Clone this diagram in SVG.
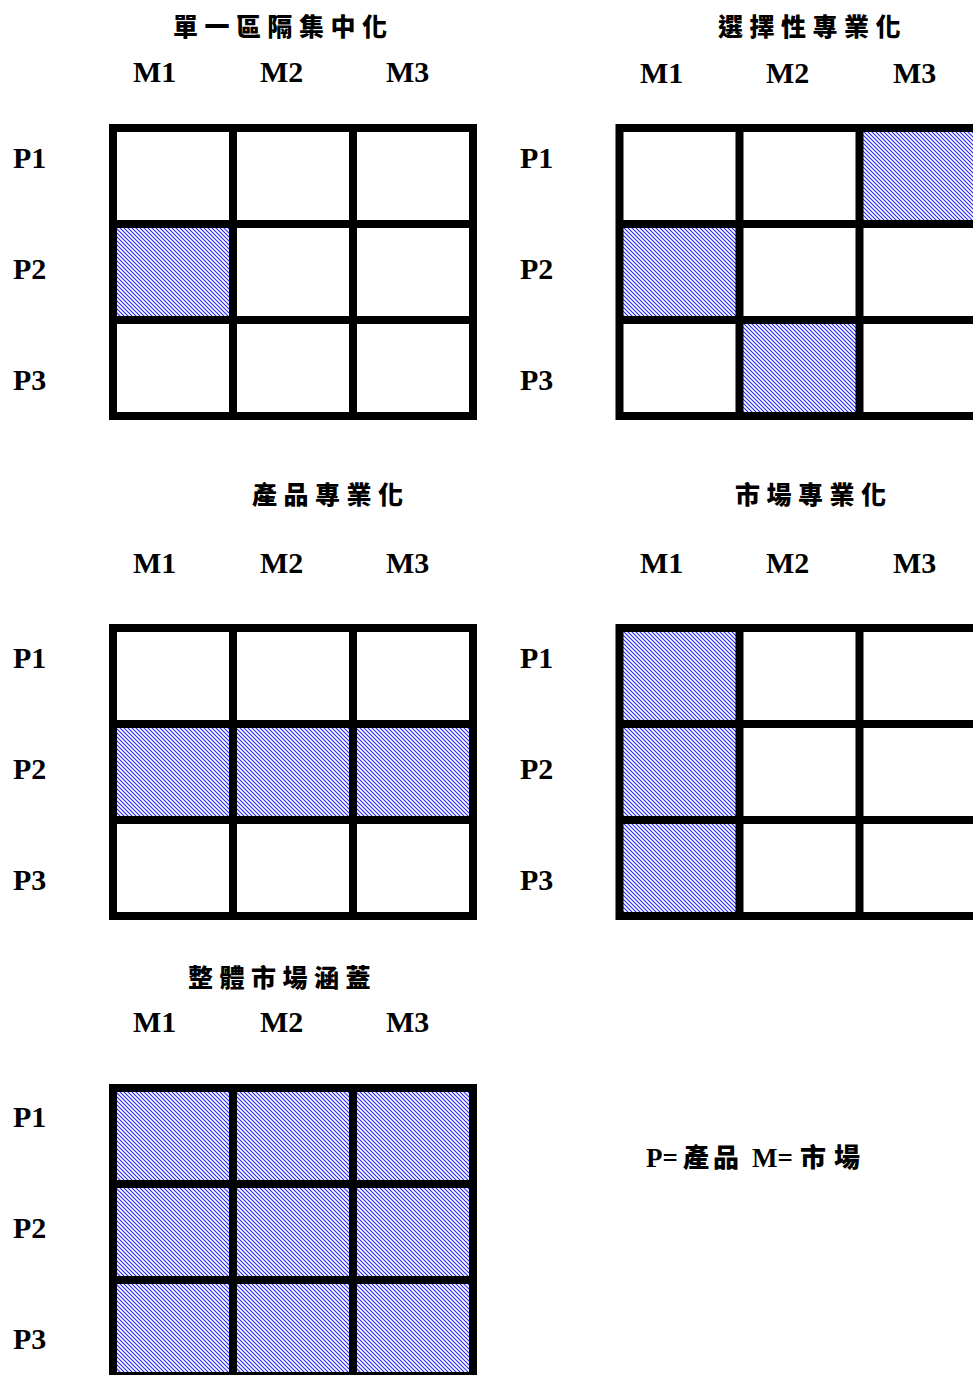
<svg xmlns="http://www.w3.org/2000/svg" width="973" height="1375" viewBox="0 0 973 1375">
<style>
.ttl{font-family:"Noto Sans CJK TC","Noto Sans CJK SC",sans-serif;font-weight:900;font-size:25px;letter-spacing:6.5px;fill:#000}
.lbl{font-family:"Liberation Serif","Times New Roman",serif;font-weight:700;font-size:30px;fill:#000}
.leg{font-family:"Liberation Serif","Noto Sans CJK TC",serif;font-weight:700;font-size:27px;fill:#000}
.cj{font-family:"Noto Sans CJK TC","Noto Sans CJK SC",sans-serif;font-weight:900;font-size:26px}
.grid{fill:none;stroke:#000;stroke-width:8}
.h{fill:url(#hatch)}
</style>
<defs>
<pattern id="hatch" patternUnits="userSpaceOnUse" width="4" height="4">
<rect width="4" height="4" fill="#fff"/>
<path d="M0,0 L4,4 M-1,3 L1,5 M3,-1 L5,1" stroke="#2828ff" stroke-width="1.1"/>
</pattern>
</defs>
<rect width="973" height="1375" fill="#fff"/>

<g id="m1">
<text class="ttl" x="173" y="36">單一區隔集中化</text>
<text class="lbl" x="133" y="82">M1</text><text class="lbl" x="260" y="82">M2</text><text class="lbl" x="386" y="82">M3</text>
<text class="lbl" x="13" y="168">P1</text><text class="lbl" x="13" y="279">P2</text><text class="lbl" x="13" y="390">P3</text>
<rect class="h" x="113" y="224" width="120" height="96"/>
<path class="grid" d="M113,128H473V416H113Z M233,128V416 M353,128V416 M113,224H473 M113,320H473"/>
</g>

<g id="m2">
<text class="ttl" x="718" y="36">選擇性專業化</text>
<text class="lbl" x="640" y="83">M1</text><text class="lbl" x="766" y="83">M2</text><text class="lbl" x="893" y="83">M3</text>
<text class="lbl" x="520" y="168">P1</text><text class="lbl" x="520" y="279">P2</text><text class="lbl" x="520" y="390">P3</text>
<rect class="h" x="859.5" y="128" width="120" height="96"/>
<rect class="h" x="619.5" y="224" width="120" height="96"/>
<rect class="h" x="739.5" y="320" width="120" height="96"/>
<path class="grid" d="M619.5,128H979.5V416H619.5Z M739.5,128V416 M859.5,128V416 M619.5,224H979.5 M619.5,320H979.5"/>
</g>

<g id="m3">
<text class="ttl" x="252" y="504">產品專業化</text>
<text class="lbl" x="133" y="573">M1</text><text class="lbl" x="260" y="573">M2</text><text class="lbl" x="386" y="573">M3</text>
<text class="lbl" x="13" y="668">P1</text><text class="lbl" x="13" y="779">P2</text><text class="lbl" x="13" y="890">P3</text>
<rect class="h" x="113" y="724" width="360" height="96"/>
<path class="grid" d="M113,628H473V916H113Z M233,628V916 M353,628V916 M113,724H473 M113,820H473"/>
</g>

<g id="m4">
<text class="ttl" x="735" y="504">市場專業化</text>
<text class="lbl" x="640" y="573">M1</text><text class="lbl" x="766" y="573">M2</text><text class="lbl" x="893" y="573">M3</text>
<text class="lbl" x="520" y="668">P1</text><text class="lbl" x="520" y="779">P2</text><text class="lbl" x="520" y="890">P3</text>
<rect class="h" x="619.5" y="628" width="120" height="288"/>
<path class="grid" d="M619.5,628H979.5V916H619.5Z M739.5,628V916 M859.5,628V916 M619.5,724H979.5 M619.5,820H979.5"/>
</g>

<g id="m5">
<text class="ttl" x="188" y="987">整體市場涵蓋</text>
<text class="lbl" x="133" y="1032">M1</text><text class="lbl" x="260" y="1032">M2</text><text class="lbl" x="386" y="1032">M3</text>
<text class="lbl" x="13" y="1127">P1</text><text class="lbl" x="13" y="1238">P2</text><text class="lbl" x="13" y="1349">P3</text>
<rect class="h" x="113" y="1088" width="360" height="288"/>
<path class="grid" d="M113,1088H473V1376H113Z M233,1088V1376 M353,1088V1376 M113,1184H473 M113,1280H473"/>
</g>

<g id="legend">
<text class="leg" y="1167"><tspan x="646">P=</tspan><tspan class="cj" x="683" letter-spacing="4">產品</tspan><tspan x="752">M=</tspan><tspan class="cj" x="800" letter-spacing="8">市場</tspan></text>
</g>
<g id="connectors"/>
</svg>
